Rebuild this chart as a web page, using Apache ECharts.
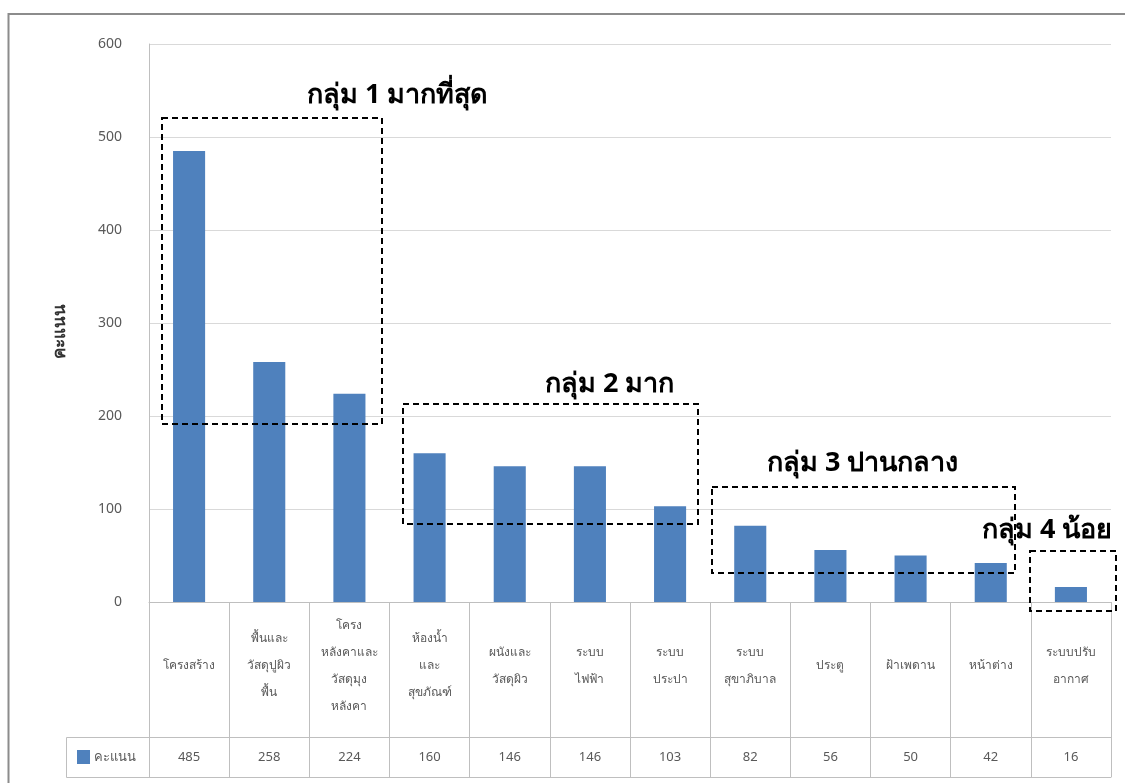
<!DOCTYPE html>
<html>
<head>
<meta charset="utf-8">
<script src="https://cdn.jsdelivr.net/npm/echarts@6/dist/echarts.min.js"></script>
<style>
html,body{margin:0;padding:0;background:#fff;}
#chart{width:1125px;height:783px;}
</style>
</head>
<body>
<div id="chart"></div>
<script>
// ---- data ----
const categories = [
  'โครงสร้าง',
  'พื้นและ\nวัสดุปูผิว\nพื้น',
  'โครง\nหลังคาและ\nวัสดุมุง\nหลังคา',
  'ห้องน้ำ\nและ\nสุขภัณฑ์',
  'ผนังและ\nวัสดุผิว',
  'ระบบ\nไฟฟ้า',
  'ระบบ\nประปา',
  'ระบบ\nสุขาภิบาล',
  'ประตู',
  'ฝ้าเพดาน',
  'หน้าต่าง',
  'ระบบปรับ\nอากาศ'
];
const scores = [485, 258, 224, 160, 146, 146, 103, 82, 56, 50, 42, 16];
const seriesName = 'คะแนน';
const yAxisTitle = 'คะแนน';
const yTicks = [0, 100, 200, 300, 400, 500, 600];
const groupLabels = ['กลุ่ม 1 มากที่สุด', 'กลุ่ม 2 มาก', 'กลุ่ม 3 ปานกลาง', 'กลุ่ม 4 น้อย'];

// ---- styles ----
const FONT = '"Noto Sans", Tahoma, sans-serif';
const lineGray = '#bfbfbf';
const textGray = '#595959';
const barColor = '#4f81bd';

const chart = echarts.init(document.getElementById('chart'), null, {renderer: 'canvas'});

const dashStyle = {stroke: '#000', lineWidth: 2, lineDash: [6, 4], fill: 'none'};
const boxes = [
  {x: 162, y: 118, width: 220, height: 306},
  {x: 403, y: 404, width: 295, height: 120},
  {x: 712, y: 487, width: 303, height: 86},
  {x: 1030, y: 551, width: 86, height: 60}
];
const labelPos = [[307, 95], [545, 384], [767, 463], [982, 530]];

const graphics = [
  {type: 'rect', shape: {x: 8.5, y: 14, width: 1130, height: 800}, style: {stroke: '#8c8c8c', lineWidth: 2, fill: 'none'}, silent: true, z: 0},
  {type: 'rect', shape: {x: 66.5, y: 737.5, width: 83, height: 40}, style: {stroke: lineGray, lineWidth: 1, fill: 'none'}, silent: true, z: 5}
];
boxes.forEach(b => graphics.push({type: 'rect', shape: b, style: dashStyle, silent: true, z: 20}));
groupLabels.forEach((t, i) => graphics.push({
  type: 'text', x: labelPos[i][0], y: labelPos[i][1], z: 21, silent: true,
  style: {text: t, fill: '#000', font: 'bold 27px ' + FONT, textVerticalAlign: 'middle', textAlign: 'left'}
}));

chart.setOption({
  animation: false,
  backgroundColor: '#fff',
  textStyle: {fontFamily: FONT},
  grid: {left: 149, right: 14, top: 44, bottom: 181, containLabel: false},
  legend: {
    data: [seriesName], left: 77, top: 750, padding: 0, icon: 'rect', itemWidth: 13, itemHeight: 14, itemGap: 5,
    textStyle: {fontSize: 13, color: textGray, fontFamily: FONT, padding: [0, 0, 0, -1]}
  },
  xAxis: [
    {
      type: 'category', data: categories, position: 'bottom',
      axisLine: {show: true, lineStyle: {color: lineGray, width: 1}},
      axisTick: {show: true, interval: 0, length: 175, lineStyle: {color: lineGray, width: 1}},
      axisLabel: {interval: 0, margin: 64, verticalAlign: 'middle', lineHeight: 27, fontSize: 12, color: textGray, align: 'center'},
      splitLine: {show: false}
    },
    {
      type: 'category', data: scores.map(String), position: 'bottom', offset: 135.5,
      axisLine: {show: true, lineStyle: {color: lineGray, width: 1}},
      axisTick: {show: false},
      axisLabel: {interval: 0, margin: 20, verticalAlign: 'middle', fontSize: 13, color: textGray}
    },
    {
      type: 'category', data: categories, position: 'bottom', offset: 175.5,
      axisLine: {show: true, lineStyle: {color: lineGray, width: 1}},
      axisTick: {show: false}, axisLabel: {show: false}
    }
  ],
  yAxis: {
    type: 'value', min: yTicks[0], max: yTicks[yTicks.length - 1], interval: yTicks[1] - yTicks[0],
    name: yAxisTitle, nameLocation: 'middle', nameGap: 80,
    nameTextStyle: {fontSize: 17, fontWeight: 'bold', color: '#333', padding: [0, 16, 0, 0]},
    axisLine: {show: true, lineStyle: {color: lineGray, width: 1}},
    axisTick: {show: false},
    axisLabel: {margin: 27, fontSize: 14, color: textGray},
    splitLine: {lineStyle: {color: '#d9d9d9', width: 1}}
  },
  series: [{
    name: seriesName, type: 'bar', data: scores, barWidth: '40%', xAxisIndex: 0,
    itemStyle: {color: barColor}
  }],
  graphic: graphics
});
</script>
</body>
</html>
